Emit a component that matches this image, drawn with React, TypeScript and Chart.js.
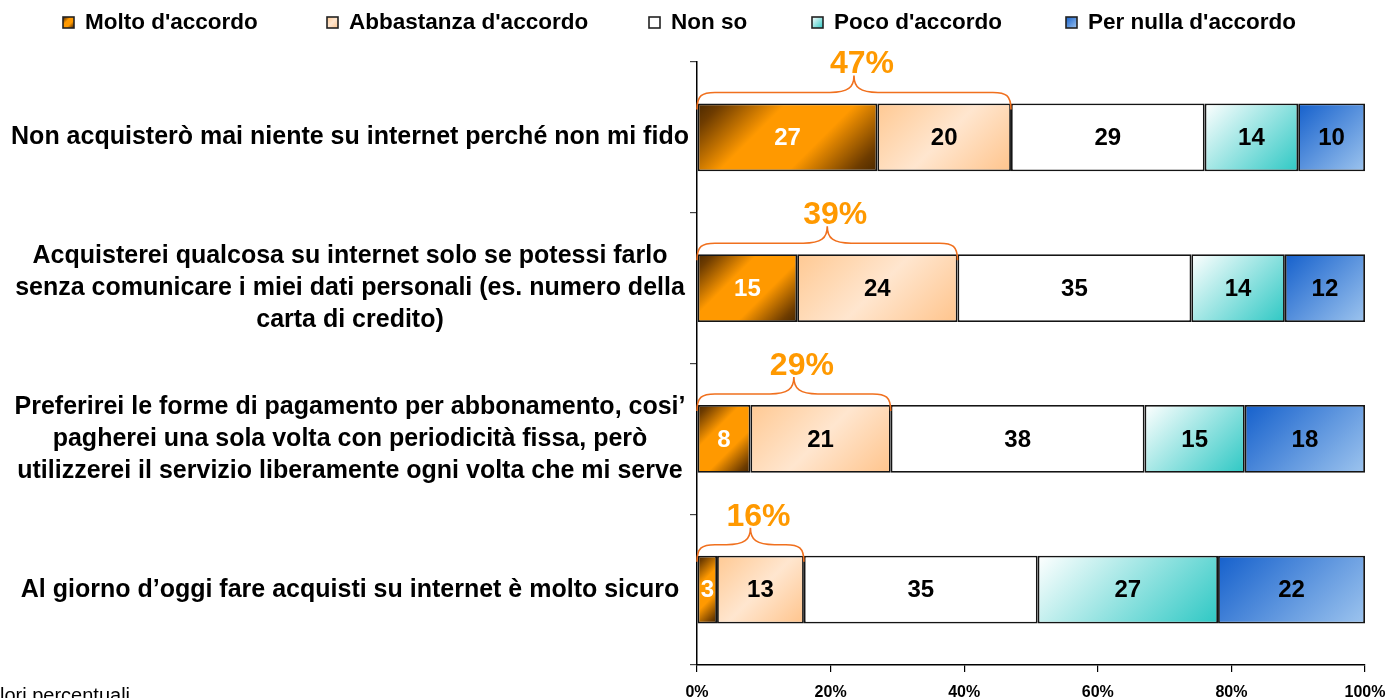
import React, { useEffect, useRef } from 'react';
import { Chart, registerables } from 'chart.js';

Chart.register(...registerables);

// ---------- data ----------
const categories: string[][] = [
  ['Non acquisterò mai niente su internet perché non mi fido'],
  [
    'Acquisterei qualcosa su internet solo se potessi farlo',
    'senza comunicare i miei dati personali (es. numero della',
    'carta di credito)',
  ],
  [
    'Preferirei le forme di pagamento per abbonamento, cosi’',
    'pagherei una sola volta con periodicità fissa, però',
    'utilizzerei il servizio liberamente ogni volta che mi serve',
  ],
  ['Al giorno d’oggi fare acquisti su internet è molto sicuro'],
];
const seriesNames = ["Molto d'accordo", "Abbastanza d'accordo", 'Non so', "Poco d'accordo", "Per nulla d'accordo"];
const molto = [27, 15, 8, 3];
const abbastanza = [20, 24, 21, 13];
const nonSo = [29, 35, 38, 35];
const poco = [14, 14, 15, 27];
const perNulla = [10, 12, 18, 22];
const seriesValues = [molto, abbastanza, nonSo, poco, perNulla];
const xMin = 0;
const xMax = 100;
const xStep = 20;
const footnote = 'Valori percentuali';

// ---------- styles ----------
const FONT = '"Liberation Sans", Arial, Helvetica, sans-serif';
type Stop = [number, string];
const gradientStops: Stop[][] = [
  [[0, '#4A2800'], [0.1, '#6E3C00'], [0.36, '#FF9900'], [0.64, '#FF9900'], [0.9, '#6E3C00'], [1, '#4A2800']],
  [[0, '#FFC993'], [0.5, '#FFE6CF'], [1, '#FFC48C']],
  [[0, '#FFFFFF'], [1, '#FFFFFF']],
  [[0, '#FFFFFF'], [1, '#2EC8C4']],
  [[0, '#1560CC'], [1, '#9DC4EE']],
];
const fallbackColors = ['#FF9900', '#FFDDBB', '#FFFFFF', '#99E0DD', '#5A8FDD'];
const valueLabelColors = ['#FFFFFF', '#000000', '#000000', '#000000', '#000000'];
const BAR_FRACTION = 0.45;

function diagGradient(ctx: CanvasRenderingContext2D, x: number, y: number, w: number, h: number, stops: Stop[]) {
  const t = (w + h) / 2;
  const g = ctx.createLinearGradient(x, y, x + t, y + t);
  stops.forEach(([o, c]) => g.addColorStop(o, c));
  return g;
}

const overlayPlugin = {
  id: 'overlay',
  afterDraw(chart: any) {
    const ctx: CanvasRenderingContext2D = chart.ctx;
    const xs = chart.scales.x;
    const ys = chart.scales.y;
    ctx.save();

    // legend
    const legendX = [63, 327, 649, 812, 1066];
    seriesNames.forEach((name, k) => {
      const mx = legendX[k];
      const my = 17;
      const s = 11;
      ctx.fillStyle = diagGradient(ctx, mx, my, s, s, gradientStops[k]);
      ctx.fillRect(mx, my, s, s);
      ctx.strokeStyle = '#222';
      ctx.lineWidth = 1.6;
      ctx.strokeRect(mx, my, s, s);
      ctx.fillStyle = '#000';
      ctx.font = `bold 22.5px ${FONT}`;
      ctx.textAlign = 'left';
      ctx.textBaseline = 'middle';
      ctx.fillText(name, mx + 22, 23);
    });

    // category labels
    ctx.font = `bold 25px ${FONT}`;
    ctx.fillStyle = '#000';
    ctx.textAlign = 'center';
    ctx.textBaseline = 'middle';
    categories.forEach((lines, i) => {
      const yc = ys.getPixelForValue(i);
      const lh = 32;
      lines.forEach((ln, j) => {
        ctx.fillText(ln, 350, yc + (j - (lines.length - 1) / 2) * lh);
      });
    });

    // value labels
    ctx.font = `bold 24px ${FONT}`;
    chart.data.datasets.forEach((_ds: any, di: number) => {
      const meta = chart.getDatasetMeta(di);
      meta.data.forEach((el: any, i: number) => {
        const p = el.getProps(['x', 'y', 'base'], true);
        ctx.fillStyle = valueLabelColors[di];
        ctx.fillText(String(seriesValues[di][i]), (p.x + p.base) / 2, p.y + 1);
      });
    });

    // brackets with totals of first two series
    const meta0 = chart.getDatasetMeta(0);
    categories.forEach((_c, i) => {
      const total = molto[i] + abbastanza[i];
      const x0 = xs.getPixelForValue(0);
      const x1 = xs.getPixelForValue(total);
      const el = meta0.data[i].getProps(['y', 'height'], true);
      const top = el.y - el.height / 2;
      const yEnd = top + 6;
      const yH = top - 11;
      const yCusp = top - 28;
      const mid = (x0 + x1) / 2;
      ctx.beginPath();
      ctx.moveTo(x0, yEnd);
      ctx.bezierCurveTo(x0, yH + 3, x0 + 5, yH, x0 + 18, yH);
      ctx.lineTo(mid - 24, yH);
      ctx.bezierCurveTo(mid - 6, yH, mid, yH - 5, mid, yCusp);
      ctx.bezierCurveTo(mid, yH - 5, mid + 6, yH, mid + 24, yH);
      ctx.lineTo(x1 - 18, yH);
      ctx.bezierCurveTo(x1 - 5, yH, x1, yH + 3, x1, yEnd);
      ctx.strokeStyle = '#F0701E';
      ctx.lineWidth = 1.6;
      ctx.stroke();
      ctx.fillStyle = '#FF9900';
      ctx.font = `bold 32px ${FONT}`;
      ctx.textAlign = 'center';
      ctx.textBaseline = 'middle';
      ctx.fillText(`${total}%`, mid + 8, yCusp - 11);
    });

    // footnote
    ctx.font = `20px ${FONT}`;
    ctx.fillStyle = '#000';
    ctx.textAlign = 'left';
    ctx.textBaseline = 'alphabetic';
    ctx.fillText(footnote, -23, 702);

    ctx.restore();
  },
};

export default function App() {
  const ref = useRef<HTMLCanvasElement>(null);

  useEffect(() => {
    if (!ref.current) return;
    const datasets = seriesNames.map((name, ds) => ({
      label: name,
      data: seriesValues[ds],
      borderColor: '#141414',
      borderWidth: 1.8,
      borderSkipped: false,
      barPercentage: 0.9,
      categoryPercentage: 0.5,
      backgroundColor: (c: any) => {
        const chart = c.chart;
        const xs = chart.scales?.x;
        const ys = chart.scales?.y;
        if (!xs || !ys || c.dataIndex == null || !chart.chartArea) return fallbackColors[ds];
        const di = c.dataIndex;
        let start = 0;
        for (let k = 0; k < ds; k++) start += seriesValues[k][di];
        const end = start + seriesValues[ds][di];
        const x0 = xs.getPixelForValue(start);
        const x1 = xs.getPixelForValue(end);
        const band = (ys.height / categories.length) * BAR_FRACTION;
        const yc = ys.getPixelForValue(di);
        return diagGradient(chart.ctx, x0, yc - band / 2, x1 - x0, band, gradientStops[ds]);
      },
    }));

    const chart = new Chart(ref.current, {
      type: 'bar',
      data: { labels: categories.map((l) => l.join(' ')), datasets },
      options: {
        indexAxis: 'y',
        responsive: false,
        animation: false,
        layout: { padding: { left: 690, right: 25, top: 62, bottom: 0 } },
        plugins: { legend: { display: false }, tooltip: { enabled: false } },
        scales: {
          x: {
            type: 'linear',
            stacked: true,
            min: xMin,
            max: xMax,
            ticks: {
              stepSize: xStep,
              callback: (v: any) => `${v}%`,
              color: '#000',
              font: { family: FONT, size: 16, weight: 'bold' },
              padding: 11,
              maxRotation: 0,
            },
            grid: { drawOnChartArea: false, drawTicks: true, tickLength: 7, color: '#000', lineWidth: 1.2 },
            border: { color: '#000', width: 1.5 },
            afterFit: (s: any) => {
              s.height = 45;
              s.paddingLeft = 0;
              s.paddingRight = 0;
            },
          },
          y: {
            type: 'category',
            stacked: true,
            ticks: { display: false },
            grid: { offset: true, drawOnChartArea: false, drawTicks: true, tickLength: 7, color: '#444', lineWidth: 1.2 },
            border: { color: '#000', width: 1.5 },
            afterFit: (s: any) => {
              s.width = 7;
            },
          },
        },
      } as any,
      plugins: [overlayPlugin],
    });
    return () => chart.destroy();
  }, []);

  return (
    <div style={{ position: 'fixed', left: 0, top: 0, width: 1390, height: 710, background: '#fff' }}>
      <canvas ref={ref} width={1390} height={710} style={{ width: 1390, height: 710, display: 'block' }} />
    </div>
  );
}
